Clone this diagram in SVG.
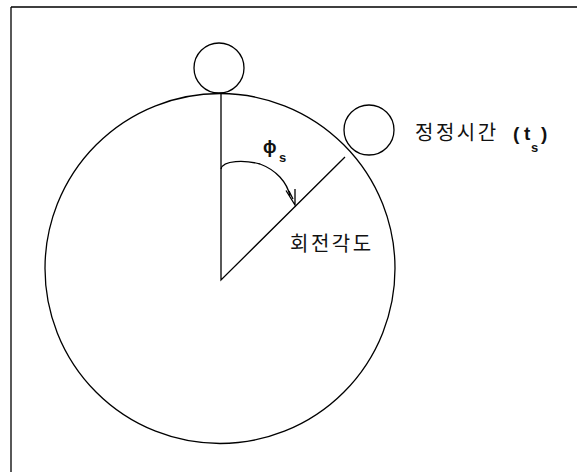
<svg xmlns="http://www.w3.org/2000/svg" width="577" height="472" viewBox="0 0 577 472">
<style>
.ln{fill:none;stroke:#000;stroke-width:1.3}
.kr{font-family:"Noto Sans CJK KR","Noto Sans",sans-serif;font-size:20px;fill:#111;letter-spacing:2.5px}
.lat{font-family:"Liberation Sans",Arial,sans-serif;fill:#111;font-weight:bold}
</style>
<rect width="577" height="472" fill="#fff"/>
<g id="frame">
<path class="ln" d="M11,7 H577 M11,7 V472"/>
</g>
<g id="wheel">
<circle class="ln" cx="220" cy="268.5" r="175"/>
</g>
<g id="ball-start">
<circle class="ln" cx="219" cy="68" r="25"/>
</g>
<g id="ball-stop">
<circle class="ln" cx="369" cy="130" r="25"/>
</g>
<g id="connectors">
<path class="ln" d="M221,94 V280 L345,157"/>
<path class="ln" d="M221,169 C223,160 245,160 260,164 C276,170 287,182 290,196"/>
<path class="ln" d="M286,190.5 L295,205 L295,189 M289,191 L293,199"/>
</g>
<g id="labels">
<text class="lat" x="263" y="153" font-size="18" font-weight="normal">ϕ</text>
<text class="lat" x="279" y="162" font-size="13">s</text>
<text class="kr" x="415" y="140">정정시간</text>
<text class="lat" x="513" y="140" font-size="19">(</text>
<text class="lat" x="524" y="140" font-size="19">t</text>
<text class="lat" x="531" y="152" font-size="13">s</text>
<text class="lat" x="541" y="140" font-size="19">)</text>
<text class="kr" x="290" y="251">회전각도</text>
</g>
</svg>
